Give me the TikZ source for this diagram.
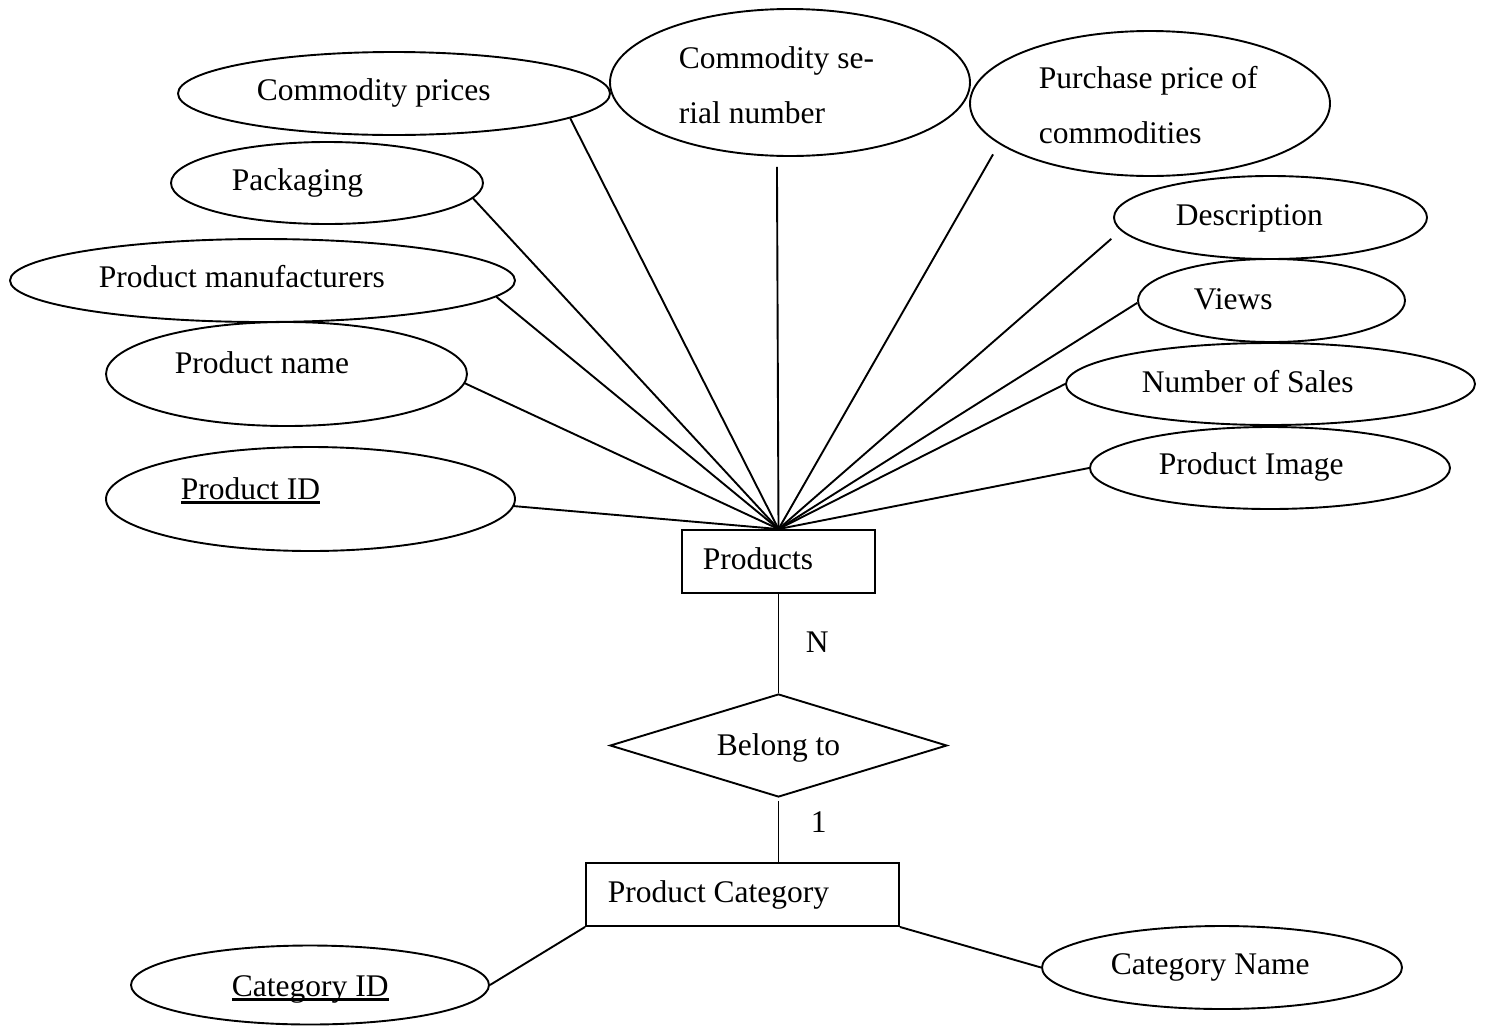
\documentclass[tikz,border=0pt]{standalone}
\usepackage{fontspec}
\setmainfont{Liberation Serif}
\usetikzlibrary{shapes.geometric}
% key attribute: text with an underline drawn just below the baseline
\newcommand{\keyattr}[1]{\setbox0=\hbox{#1}\rlap{\vrule height -2pt depth 4.5pt width \wd0}\box0}
\begin{document}
\begin{tikzpicture}[x=1pt,y=-1pt,line width=1.9pt,
  every node/.style={font=\fontsize{31.5}{55}\selectfont},
  attr/.style 2 args={ellipse,draw,inner sep=0pt,minimum width=#1pt,minimum height=#2pt},
  lbl/.style={anchor=base west,inner sep=0pt,draw=none},
  entity/.style={rectangle,draw,inner sep=0pt,text height=22pt,text depth=7pt},
  relation/.style={diamond,draw,inner sep=0pt,aspect=3.27,text height=22pt,text depth=3pt}]
\useasboundingbox (0,0) rectangle (1486,1026);

% attribute ellipses
\node[attr={432}{83}]  (price)    at (394,93.5)    {};
\node[attr={360}{147}] (serial)   at (790,82.5)    {};
\node[attr={360}{145}] (purchase) at (1150,103.5)  {};
\node[attr={313}{83}]  (desc)     at (1270.5,217.5) {};
\node[attr={267}{83}]  (views)    at (1271.5,300.5) {};
\node[attr={409}{82}]  (sales)    at (1270.5,384)  {};
\node[attr={360}{82}]  (image)    at (1270,468)    {};
\node[attr={312}{82}]  (pack)     at (327,183)     {};
\node[attr={505}{83}]  (manuf)    at (262.5,280.5) {};
\node[attr={361}{104}] (pname)    at (286.5,374)   {};
\node[attr={409}{104}] (pid)      at (310.5,499)   {};
\node[attr={358}{79}]  (catid)    at (310,985)     {};
\node[attr={360}{83}]  (catname)  at (1222,967.5)  {};

% attribute texts
\node[lbl] (price-t)    at (256,100)  {Commodity prices};
\node[lbl] (serial-t)   at (678,68)   {\vtop{\baselineskip=55pt\hbox{Commodity se-}\hbox{rial number}}};
\node[lbl] (purchase-t) at (1038,88)  {\vtop{\baselineskip=55pt\hbox{Purchase price of}\hbox{commodities}}};
\node[lbl] (desc-t)     at (1175,225) {Description};
\node[lbl] (views-t)    at (1193,309) {Views};
\node[lbl] (sales-t)    at (1141,392) {Number of Sales};
\node[lbl] (image-t)    at (1158,474) {Product Image};
\node[lbl] (pack-t)     at (231,190)  {Packaging};
\node[lbl] (manuf-t)    at (98,287)   {Product manufacturers};
\node[lbl] (pname-t)    at (174,373)  {Product name};
\node[lbl] (pid-t)      at (180,499)  {\keyattr{Product ID}};
\node[lbl] (catid-t)    at (231,996)  {\keyattr{Category ID}};
\node[lbl] (catname-t)  at (1110,974) {Category Name};

% entities and relationship
\node[entity,minimum width=193pt,minimum height=63pt] (products) at (778.5,561.5) {Products\hspace*{41pt}};
\node[entity,minimum width=313pt,minimum height=63pt] (category) at (742.5,894.5) {Product Category\hspace*{48pt}};
\node[relation,minimum width=337pt,minimum height=103pt] (belong) at (778.5,745.5) {Belong to};

% cardinalities
\node[lbl] (card-n) at (805,652) {N};
\node[lbl] (card-1) at (810,832) {1};

% attribute links
\draw (products.north) -- (price.-8.4);
\draw[shorten >=10pt] (products.north) -- (serial.260.3);
\draw[shorten >=12pt] (products.north) -- (purchase.195.4);
\draw[shorten >=12.5pt] (products.north) -- (desc.185.5);
\draw (products.north) -- (views.181);
\draw (products.north) -- (sales.180.5);
\draw (products.north) -- (image.west);
\draw (products.north) -- (pack.-6.7);
\draw (products.north) -- (manuf.-4.8);
\draw (products.north) -- (pname.-3.1);
\draw (products.north) -- (pid.-2.8);

% relationship links
\draw (products.south) -- (belong.north);
\draw[shorten <=3pt] (belong.south) -- (belong.south |- category.north);
\draw (category.south west) -- (catid.east);
\draw (category.south east) -- (catname.west);
\end{tikzpicture}
\end{document}
